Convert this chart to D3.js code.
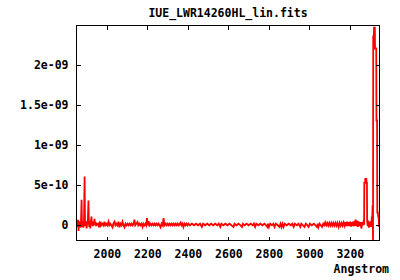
<!DOCTYPE html>
<html>
<head>
<meta charset="utf-8">
<script src="https://cdn.jsdelivr.net/npm/d3@7"></script>
<style>
  body { margin: 0; background: #fff; }
  svg text { font-family: "DejaVu Sans Mono", monospace; font-weight: bold; font-size: 11.5px; fill: #000; }
</style>
</head>
<body>
<svg id="chart" width="400" height="280"></svg>
<script>
// Spectrum data: [wavelength (Angstrom), flux in units of 1e-10]
const spectrumBlue = [
  [1850,0.6],[1852,-0.3],[1854,0.5],[1856,-0.2],[1858,0.6],[1860,-0.8],[1862,0.4],[1864,0.2],
  [1866,-0.3],[1868,0.3],[1870,-0.4],[1872,0.2],[1875,3.1],[1877,0.1],[1879,-0.3],[1881,0.4],
  [1884,-0.4],[1887,0.3],[1890,6.0],[1892,0.2],[1894,-0.2],[1896,0.4],[1898,0.1],[1900,-0.5],
  [1903,0.3],[1906,0.5],[1909,3.0],[1911,0.2],[1913,-0.3],[1916,0.4],[1918,-0.5],[1921,0.3],
  [1924,1.0],[1926,-0.1],[1929,0.3],[1931,-0.2],[1934,0.4],[1936,-0.1],[1939,0.7],[1941,0.0],
  [1944,0.3],[1947,-0.2],[1950,0.2],[1953,-0.1],[1956,0.2],[1959,-0.1]
];
const spectrumGreen = [
  [1962,0.1],[1966,-0.35],[1968.5,0.35],[1972,-0.1],[1978,0.1],[1983,-0.1],[1988,0.35],[1992,-0.1],
  [1997,0.1],[2002,-0.1],[2008,0.35],[2012,-0.1],[2017,0.1],[2022,-0.1],[2028,-0.35],[2032,0.1],
  [2038,0.35],[2042,-0.1],[2047,0.1],[2052,-0.1],[2057,0.35],[2062,-0.35],[2067,0.1],[2072,-0.1],
  [2077,0.35],[2082,-0.1],[2087,-0.35],[2092,0.1],[2097,-0.1],[2102,0.1],[2107,-0.1],[2112,0.1],
  [2117,-0.1],[2122,0.1],[2127,-0.1],[2132,0.1],[2136,0.6],[2140,-0.1],[2145,0.1],[2151,0.3],
  [2155,-0.1],[2160,0.1],[2165,-0.1],[2170,0.1],[2176,-0.3],[2180,0.1],[2185,-0.1],[2190,0.1],
  [2194,-0.1],[2198,0.8],[2202,-0.1],[2206,0.4],[2210,-0.1],[2215,0.1],[2220,-0.1],[2225,0.1],
  [2230,-0.1],[2235,0.1],[2240,-0.1],[2245,0.1],[2250,-0.1],[2255,0.1],[2260,-0.1],[2265,-0.35],
  [2270,0.1],[2275,-0.1],[2280,0.8],[2284,-0.1],[2290,0.1],[2295,-0.1],[2300,0.1],[2305,-0.1],
  [2310,0.1],[2315,-0.1],[2320,0.1],[2325,-0.1],[2330,0.1],[2335,-0.1],[2340,0.1],[2345,-0.1],
  [2350,0.1],[2355,-0.1],[2360,0.1],[2364,0.25],[2368,-0.1],[2373,0.1],[2378,-0.3],[2383,0.1],
  [2388,-0.1],[2393,0.1],[2398,-0.1]
];
const spectrumMid = [
  [2403,0.1],[2410,-0.1],[2420,0.1],[2430,-0.1],[2440,0.1],[2450,-0.1],[2460,0.1],[2469,-0.3],
  [2475,0.1],[2485,-0.1],[2495,0.1],[2505,-0.1],[2515,0.1],[2525,-0.1],[2535,0.1],[2545,-0.1],
  [2552,0.1],[2560,-0.3],[2565,0.1],[2575,-0.1],[2585,0.1],[2595,-0.1],[2605,0.1],[2615,-0.1],
  [2625,-0.3],[2630,0.1],[2640,-0.1],[2650,0.1],[2660,-0.1],[2667,-0.3],[2672,0.1],[2680,-0.1],
  [2690,0.1],[2700,-0.1],[2710,0.1],[2720,-0.1],[2726,0.1],[2732,-0.3],[2738,0.1],[2748,-0.1],
  [2758,0.1],[2768,-0.1],[2778,0.1],[2786,-0.1],[2792,-0.3],[2796,0.1],[2800,-0.3],[2806,0.1],
  [2815,-0.1],[2822,0.1],[2828,-0.3],[2834,0.1],[2844,-0.1],[2852,-0.3],[2857,0.1],[2862,-0.3],
  [2867,0.1],[2872,-0.3],[2878,0.1],[2888,-0.1],[2898,0.1],[2908,-0.1],[2915,0.1],[2922,-0.3],
  [2928,0.1],[2938,-0.1],[2946,0.1],[2955,-0.3],[2960,0.1],[2968,-0.1],[2976,-0.3],[2982,0.1],
  [2990,-0.1],[2996,-0.3],[3002,0.1],[3012,-0.1],[3022,0.1],[3030,-0.1],[3037,-0.3],[3041,0.1],
  [3045,-0.3],[3050,0.1],[3056,-0.1],[3062,-0.3],[3068,0.1],[3073,-0.1],[3078,0.25],[3083,-0.1],
  [3088,0.2],[3093,-0.15],[3098,0.2],[3103,-0.15],[3108,0.2],[3113,-0.15],[3118,0.2],[3123,-0.15],
  [3128,0.2],[3133,-0.15],[3138,0.2],[3144,-0.3],[3149,0.2],[3154,-0.15],[3159,0.2],[3164,-0.15],
  [3169,0.25],[3174,-0.15],[3178,0.3]
];
const spectrumRed = [
  [3181,-0.2],[3185,0.35],[3189,-0.2],[3193,0.3],[3197,-0.2],[3201,0.35],[3205,-0.25],[3209,0.3],
  [3213,-0.2],[3217,0.4],[3221,-0.2],[3225,0.3],[3228,0.6],[3231,-0.2],[3235,0.5],[3239,-0.3],
  [3243,0.4],[3247,-0.2],[3251,0.3],[3254,-0.1],[3257,-0.5],[3260,0.3],[3264,-0.1],[3267,0.3],
  [3270,0.2],[3271,5.2],[3275,5.2],[3276,5.7],[3281,5.7],[3282,5.2],[3284,5.2],[3285,0.4],
  [3288,-0.2],[3291,0.5],[3294,-0.4],[3297,0.3],[3300,-0.3],[3303,0.4],[3306,-0.3],[3308,1.0],
  [3310,0.6],[3312,2.4],[3314,-2.0],[3315,23.5],[3318,23.5],[3319,24.6],[3323,24.6],[3324,22.0],
  [3330,22.0],[3331,13.0],[3334,13.0],[3335,1.5],[3338,1.5],[3339,1.1],[3342,0.8],[3344,-0.3],
  [3346,0.9]
];

const fluxUnit = 1e-10;
const xDomain = [1850, 3346];
const yDomain = [-0.2e-9, 2.4875e-9];
const xTicks = [2000, 2200, 2400, 2600, 2800, 3000, 3200];
const yTicks = [0, 5e-10, 1e-9, 1.5e-9, 2e-9];
const yTickLabels = ["0", "5e-10", "1e-09", "1.5e-09", "2e-09"];
const titleText = "IUE_LWR14260HL_lin.fits";
const xLabelText = "Angstrom";

const spectrum = spectrumBlue.concat(spectrumGreen, spectrumMid, spectrumRed);

// Layout
const plotLeft = 76.5, plotRight = 379.5, plotTop = 25.5, plotBottom = 240.5;
const svg = d3.select("#chart");

const x = d3.scaleLinear().domain(xDomain).range([plotLeft, plotRight]);
const y = d3.scaleLinear().domain(yDomain).range([plotBottom, plotTop]);

// Spectrum line
const line = d3.line()
    .x(d => x(d[0]))
    .y(d => y(d[1] * fluxUnit));

svg.append("defs").append("clipPath").attr("id", "clip")
   .append("rect").attr("x", plotLeft).attr("y", plotTop - 1)
   .attr("width", plotRight - plotLeft).attr("height", plotBottom - plotTop + 1);

svg.append("path")
   .datum(spectrum)
   .attr("clip-path", "url(#clip)")
   .attr("fill", "none")
   .attr("stroke", "#ff0000")
   .attr("stroke-width", 1.8)
   .attr("stroke-linejoin", "miter")
   .attr("d", line);

// Axes (ticks point inward, mirrored on opposite sides)
const yLabel = d => yTickLabels[yTicks.indexOf(d)];

svg.append("g").attr("transform", `translate(0,${plotBottom})`)
   .call(d3.axisBottom(x).tickValues(xTicks).tickSize(-4).tickPadding(9).tickFormat(d3.format("d")));
svg.append("g").attr("transform", `translate(0,${plotTop})`)
   .call(d3.axisTop(x).tickValues(xTicks).tickSize(-4).tickFormat(""));
svg.append("g").attr("transform", `translate(${plotLeft},0)`)
   .call(d3.axisLeft(y).tickValues(yTicks).tickSize(-4).tickPadding(8).tickFormat(yLabel));
svg.append("g").attr("transform", `translate(${plotRight},0)`)
   .call(d3.axisRight(y).tickValues(yTicks).tickSize(-4).tickFormat(""));

svg.selectAll(".domain").remove();
svg.selectAll(".tick line").attr("stroke", "#000").attr("shape-rendering", "crispEdges");
svg.selectAll(".tick text")
   .style("font-family", "'DejaVu Sans Mono', monospace")
   .style("font-weight", "bold")
   .style("font-size", "11.5px")
   .attr("fill", "#000");

// Frame
svg.append("rect")
   .attr("x", plotLeft).attr("y", plotTop)
   .attr("width", plotRight - plotLeft).attr("height", plotBottom - plotTop)
   .attr("fill", "none").attr("stroke", "#000")
   .attr("shape-rendering", "crispEdges");

// Title and axis label
svg.append("text")
   .attr("x", (plotLeft + plotRight) / 2).attr("y", 17)
   .attr("text-anchor", "middle")
   .text(titleText);

svg.append("text")
   .attr("x", 389).attr("y", 273)
   .attr("text-anchor", "end")
   .text(xLabelText);
</script>
</body>
</html>
